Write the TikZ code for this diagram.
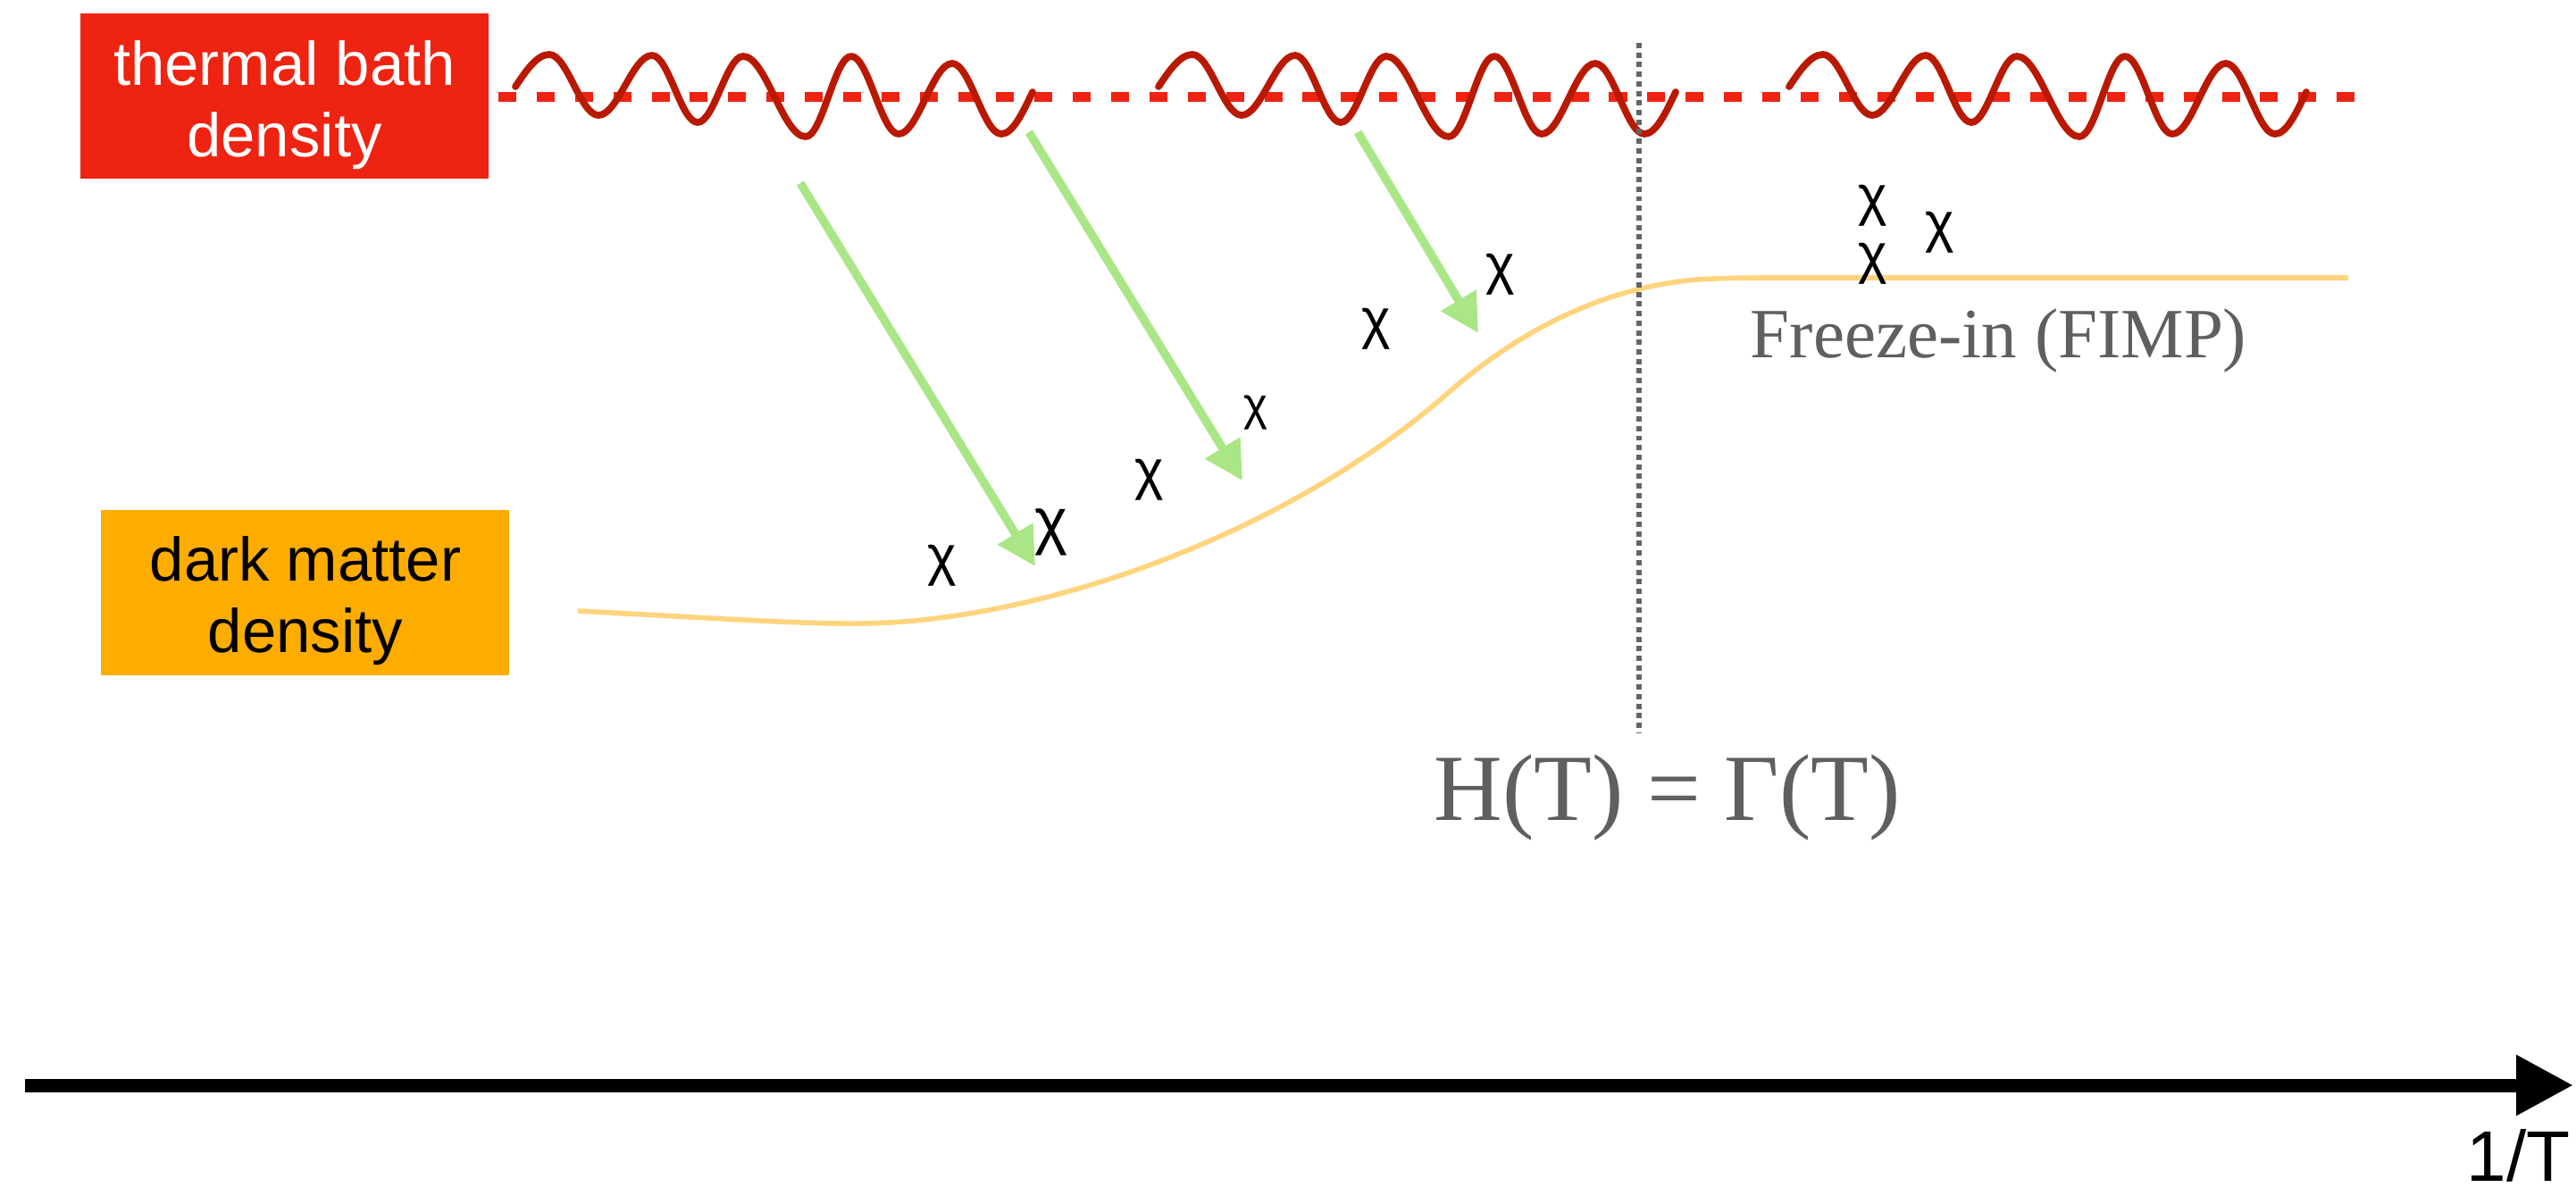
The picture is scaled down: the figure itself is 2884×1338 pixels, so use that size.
\documentclass[tikz,border=0pt]{standalone}
\usepackage{fontspec}
\setmainfont{Liberation Sans}
\newfontfamily\seriffam{Liberation Serif}
\usetikzlibrary{arrows.meta}
\definecolor{boxred}{RGB}{238,35,17}
\definecolor{boxorange}{RGB}{253,173,0}
\definecolor{wavered}{RGB}{185,25,0}
\definecolor{curveyellow}{RGB}{255,212,125}
\definecolor{arrowgreen}{RGB}{170,229,134}
\definecolor{textgray}{RGB}{95,95,95}
\definecolor{dotgray}{RGB}{100,100,100}
\tikzset{
  densitybox/.style={rectangle, inner sep=0pt, minimum width=45.7mm, minimum height=18.5mm},
  boxtext/.style={inner sep=0pt, align=center, font=\fontsize{19.6}{22.8}\selectfont},
  wavestyle/.style={draw=wavered, line width=2.2pt, line cap=round, line join=round},
  bathline/.style={draw=boxred, line width=3.13pt, dash pattern=on 5.7pt off 6.5pt},
  dmcurve/.style={draw=curveyellow, line width=1.6pt},
  prodarrow/.style={draw=arrowgreen, line width=2.7pt, -{Triangle[length=12.2pt,width=12.5pt]}},
  chi/.style={inner sep=0pt, font=\fontsize{17.6}{20}\selectfont},
  chibig/.style={inner sep=0pt, font=\fontsize{20}{22}\selectfont},
  chismall/.style={inner sep=0pt, font=\fontsize{14.6}{17}\selectfont},
  graytext/.style={inner sep=0pt, text=textgray},
  vdotted/.style={draw=dotgray, line width=1.7pt, dash pattern=on 1.7pt off 1.35pt},
  axisarrow/.style={draw=black, line width=4.27pt, -{Triangle[length=18.2pt,width=18.2pt]}}
}
\begin{document}
\begin{tikzpicture}[x=0.1mm,y=-0.1mm]
\useasboundingbox (0,0) rectangle (2884,1338);
\fill[white] (0,0) rectangle (2884,1338);

% boxes
\node[densitybox, fill=boxred] (bathbox) at (318.5,107.5) {};
\node[boxtext, text=white] (bathtext) at (318.5,118) {thermal bath\\density};
\node[densitybox, fill=boxorange] (dmbox) at (341.5,663.5) {};
\node[boxtext, text=black] (dmtext) at (342,673) {dark matter\\density};

% thermal bath level
\coordinate (bathL) at (558,108);
\coordinate (bathR) at (2656,108);
\draw[bathline] (bathL) -- (bathR);

% waves
\foreach \dx in {0,720,1426}{
  \draw[wavestyle, shift={(\dx,0)}]
    (577,97) sin (615,61) cos (642.5,95) sin (670,129) cos (700,95.5) sin (730,62)
    cos (755.5,99.5) sin (781,137) cos (806.5,100) sin (832,63) cos (867,108) sin (902,153)
    cos (927.5,108) sin (953,63) cos (979.5,106.5) sin (1006,150) cos (1036,110.5) sin (1066,71)
    cos (1093.5,110.5) sin (1121,150) cos (1156,103);
}

% dark matter density curve
\draw[dmcurve] (647,684) .. controls (800,692) and (900,699) .. (967,698)
  .. controls (1167,695) and (1433,600) .. (1613,447)
  .. controls (1693,375) and (1790,322) .. (1900,313)
  .. controls (1930,311) and (1960,311) .. (2000,311) -- (2629,311);

% vertical dotted line
\coordinate (vtop) at (1835,48);
\coordinate (vbot) at (1835,820);
\draw[vdotted] (vtop) -- (vbot);

% production arrows
\coordinate (g1s) at (896,205);
\coordinate (g1e) at (1159,634);
\coordinate (g2s) at (1152,148);
\coordinate (g2e) at (1391,538);
\coordinate (g3s) at (1520,148);
\coordinate (g3e) at (1655,373);
\draw[prodarrow] (g1s) -- (g1e);
\draw[prodarrow] (g2s) -- (g2e);
\draw[prodarrow] (g3s) -- (g3e);

% chi particles
\node[chi] (c1) at (1055,633) {χ};
\node[chibig] (c2) at (1177,596) {χ};
\node[chi] (c3) at (1287,537) {χ};
\node[chismall] (c4) at (1406,462) {χ};
\node[chi] (c5) at (1541,368) {χ};
\node[chi] (c6) at (1680,307) {χ};
\node[chi] (c7) at (2097,230) {χ};
\node[chi] (c8) at (2097,295) {χ};
\node[chi] (c9) at (2172,260) {χ};

% labels
\node[graytext, anchor=base west, font=\seriffam\fontsize{22.5}{26}\selectfont] (freeze) at (1959,400) {Freeze-in (FIMP)};
\node[graytext, anchor=base west, font=\seriffam\fontsize{30.2}{34}\selectfont] (hgamma) at (1605,918) {H(T) = Γ(T)};

% axis
\coordinate (axstart) at (28,1215);
\coordinate (axend) at (2881,1215);
\draw[axisarrow] (axstart) -- (axend);
\node[inner sep=0pt, anchor=base east, font=\fontsize{22.8}{26}\selectfont] (axislabel) at (2878,1322) {1/T};
\end{tikzpicture}
\end{document}
